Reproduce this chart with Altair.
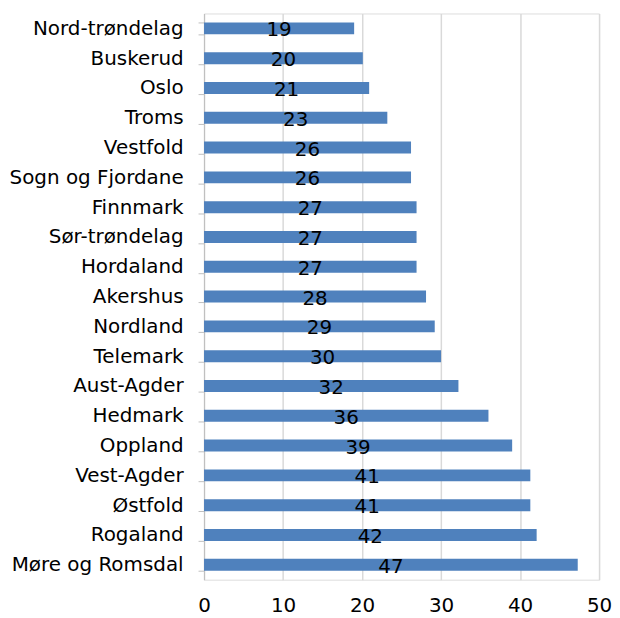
import altair as alt
import pandas as pd

regions = ["Nord-trøndelag", "Buskerud", "Oslo", "Troms", "Vestfold", "Sogn og Fjordane",
           "Finnmark", "Sør-trøndelag", "Hordaland", "Akershus", "Nordland", "Telemark",
           "Aust-Agder", "Hedmark", "Oppland", "Vest-Agder", "Østfold", "Rogaland",
           "Møre og Romsdal"]
values = [19.0, 20.1, 20.9, 23.2, 26.2, 26.2, 26.9, 26.9, 26.9, 28.1, 29.2, 30.0,
          32.2, 36.0, 39.0, 41.3, 41.3, 42.1, 47.3]
labels = ["19", "20", "21", "23", "26", "26", "27", "27", "27", "28", "29", "30",
          "32", "36", "39", "41", "41", "42", "47"]

df = pd.DataFrame({"region": regions, "value": values, "label": labels})
df["mid"] = df["value"] / 2

FONT = "DejaVu Sans"

y = alt.Y("region:N", sort=regions, title=None,
          scale=alt.Scale(paddingInner=0.6, paddingOuter=0.3),
          axis=alt.Axis(labelFont=FONT, labelFontSize=20, labelColor="#000000",
                        domainColor="#bfbfbf", tickColor="#bfbfbf", tickSize=6,
                        tickBand="extent", labelPadding=15, grid=False))

bars = alt.Chart(df).mark_bar(color="#4F81BD").encode(
    x=alt.X("value:Q", title=None,
            scale=alt.Scale(domain=[0, 50], nice=False),
            axis=alt.Axis(values=[0, 10, 20, 30, 40, 50], labelFont=FONT,
                          labelFontSize=20, labelColor="#000000", domain=False,
                          ticks=False, labelPadding=16, labelFlush=False,
                          gridColor="#d9d9d9", gridWidth=1.5)),
    y=y,
)

text = alt.Chart(df).mark_text(font=FONT, fontSize=20, color="#000000", dy=2).encode(
    x=alt.X("mid:Q", title=None),
    y=alt.Y("region:N", sort=regions, title=None),
    text="label:N",
)

chart = (bars + text).properties(
    width=397, height=569,
    padding={"top": -6, "left": 0, "right": 0, "bottom": 0},
).configure_view(stroke=None).configure(background="white")

chart.save("out.html", embed_options={"renderer": "svg", "actions": False})
